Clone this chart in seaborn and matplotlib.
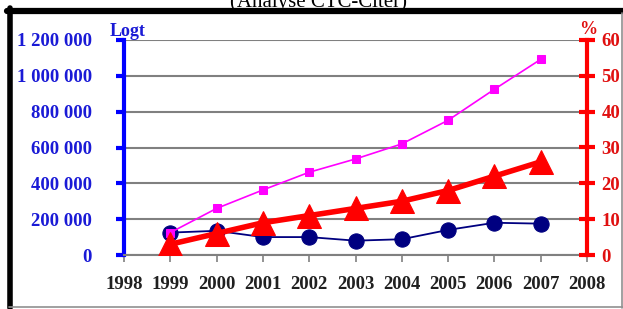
import numpy as np
import pandas as pd
import seaborn as sns
import matplotlib.pyplot as plt
from matplotlib.lines import Line2D

# Données
annees = [1999, 2000, 2001, 2002, 2003, 2004, 2005, 2006, 2007]
logt_bleu = [125000, 135000, 100000, 100000, 80000, 88000, 140000, 180000, 175000]
logt_rose = [125000, 260000, 363000, 462000, 536000, 620000, 752000, 925000, 1092000]
pourcent = [3, 6, 9, 11, 13, 15, 18, 22, 26]

xticks = list(range(1998, 2009))
yticks_g = [0, 200000, 400000, 600000, 800000, 1000000, 1200000]
yticks_d = [0, 10, 20, 30, 40, 50, 60]

def fmt(v):
    return f"{v:,}".replace(",", " ")

df = pd.DataFrame({"annee": annees, "bleu": logt_bleu, "rose": logt_rose, "pct": pourcent})

sns.set_style("white")
plt.rcParams['font.family'] = ['Liberation Serif', 'DejaVu Serif']
plt.rcParams['font.weight'] = 'bold'

fig = plt.figure(figsize=(6.23, 3.09), dpi=100)
ax = fig.add_axes([124/623, 1-255/309, (587-124)/623, (255-40)/309])
ax2 = ax.twinx()

# grille
ax.set_axisbelow(True)
ax.yaxis.grid(True, color='#808080', linewidth=1.5)
ax.xaxis.grid(False)

sns.lineplot(data=df, x="annee", y="bleu", ax=ax, color='#000080', linewidth=1.3,
             marker='o', markersize=11, markeredgecolor='#000080', zorder=3)
sns.lineplot(data=df, x="annee", y="rose", ax=ax, color='#FF00FF', linewidth=1.2,
             marker='s', markersize=6, markeredgecolor='#FF00FF', zorder=4)
sns.lineplot(data=df, x="annee", y="pct", ax=ax2, color='#FF0000', linewidth=4,
             marker='^', markersize=17, markeredgecolor='#FF0000', zorder=3)

ax.set_xlim(1998, 2008)
ax.set_ylim(0, 1200000)
ax2.set_ylim(0, 60)
ax.set_xticks(xticks)
ax.set_xticklabels([str(x) for x in xticks], fontsize=13.5, fontweight='bold', color='#202020')
ax.set_yticks(yticks_g)
ax.set_yticklabels([fmt(v) for v in yticks_g], fontsize=13.5, fontweight='bold', color='#1a1ad6')
ax2.set_yticks(yticks_d)
ax2.set_yticklabels([str(v) for v in yticks_d], fontsize=13.5, fontweight='bold', color='#e01010')
ax.set_xlabel("")
ax.set_ylabel("")
ax2.set_ylabel("")

for a in (ax, ax2):
    a.spines['top'].set_visible(False)
ax.spines['right'].set_visible(False)
ax2.spines['left'].set_visible(False)
ax2.spines['bottom'].set_visible(False)
ax.spines['left'].set_color('#0000FF')
ax.spines['left'].set_linewidth(3)
ax.spines['bottom'].set_color('#808080')
ax.spines['bottom'].set_linewidth(1.5)
ax2.spines['right'].set_color('#FF0000')
ax2.spines['right'].set_linewidth(3)

ax.tick_params(axis='y', left=True, direction='out', length=6, width=3, color='#0000FF', pad=17)
ax.tick_params(axis='x', bottom=True, direction='out', length=5, width=1.2, color='#808080', pad=10)
ax2.tick_params(axis='y', right=True, direction='inout', length=11, width=3, color='#FF0000', pad=5)

fig.text(110/623, 1-31/309, "Logt", color='#1a1ad6', fontsize=13, fontweight='bold', va='center', ha='left')
fig.text(588/623, 1-30/309, "%", color='#e01010', fontsize=13, fontweight='bold', va='center', ha='center')

# titre coupé en haut
fig.text(318/623, 1-7/309, "(Analyse CTC-Citer)", fontsize=15, fontweight='normal',
         ha='center', va='baseline', color='black')

# cadre
fig.add_artist(Line2D([7/623, 623/623], [1-11/309, 1-11/309], color='black', linewidth=4.5, transform=fig.transFigure))
fig.add_artist(Line2D([9.5/623, 9.5/623], [1-8/309, 1-308/309], color='black', linewidth=4, transform=fig.transFigure))
fig.add_artist(Line2D([9/623, 623/623], [1-307/309, 1-307/309], color='#909090', linewidth=1.2, transform=fig.transFigure))
fig.add_artist(Line2D([621.5/623, 621.5/623], [1-13/309, 1-308/309], color='#909090', linewidth=1.2, transform=fig.transFigure))

fig.savefig("out.png", dpi=100)
